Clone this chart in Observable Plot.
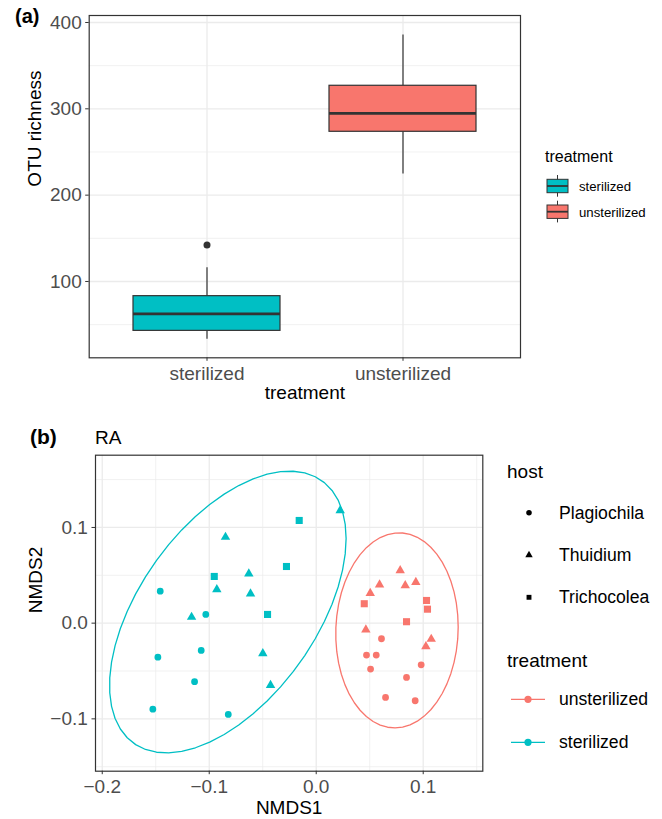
<!DOCTYPE html>
<html><head><meta charset="utf-8">
<script src="https://cdn.jsdelivr.net/npm/d3@7"></script>
<script src="https://cdn.jsdelivr.net/npm/@observablehq/plot@0.6"></script>
<style>
body{margin:0;background:#fff;}
#root{position:relative;width:662px;height:819px;overflow:hidden;background:#fff;}
#root > *{position:absolute;}
</style></head><body><div id="root"></div>
<script>
// ---------- Panel (a): OTU richness box plot (summary statistics) ----------
const treatments = ["sterilized", "unsterilized"];
const whiskerLow = [33, 224.5];
const boxQ1 = [42.8, 273.4];
const boxMedian = [62.5, 294.7];
const boxQ3 = [83, 326.7];
const whiskerHigh = [115.8, 385.4];
const outlierTreatment = ["sterilized"];
const outlierValue = [142.4];
const yTicksA = [100, 200, 300, 400];
const yMinorA = [50, 150, 250, 350];

// ---------- Panel (b): NMDS ordination ----------
const hosts = ["Plagiochila", "Thuidium", "Trichocolea"];
const legendTreatments = ["unsterilized", "sterilized"];
const nmds1 = [
  // sterilized Plagiochila
  -0.1458, -0.1032, -0.1480, -0.1075, -0.1137, -0.1527, -0.0822,
  // sterilized Thuidium
  -0.0848, -0.0630, -0.0929, -0.0614, -0.1165, -0.0499, -0.0427, 0.0224,
  // sterilized Trichocolea
  -0.0159, -0.0953, -0.0278, -0.0455,
  // unsterilized Thuidium
  0.0785, 0.0592, 0.0832, 0.0931, 0.0505, 0.0464, 0.1075, 0.1025,
  // unsterilized Trichocolea
  0.0449, 0.1031, 0.1040, 0.0844,
  // unsterilized Plagiochila
  0.0610, 0.0470, 0.0561, 0.0508, 0.0981, 0.0844, 0.0648, 0.0925
];
const nmds2 = [
  0.0334, 0.0091, -0.0355, -0.0285, -0.0612, -0.0899, -0.0954,
  0.0899, 0.0516, 0.0352, 0.0307, 0.0063, -0.0317, -0.0648, 0.1178,
  0.1073, 0.0488, 0.0592, 0.0091,
  0.0551, 0.0401, 0.0394, 0.0428, 0.0313, -0.0069, -0.0167, -0.0243,
  0.0203, 0.0237, 0.0146, 0.0015,
  -0.0163, -0.0334, -0.0334, -0.0480, -0.0435, -0.0567, -0.0776, -0.0811
];
const hostOf = [
  ...Array(7).fill("Plagiochila"), ...Array(8).fill("Thuidium"), ...Array(4).fill("Trichocolea"),
  ...Array(8).fill("Thuidium"), ...Array(4).fill("Trichocolea"), ...Array(8).fill("Plagiochila")
];
const treatmentOf = [...Array(19).fill("sterilized"), ...Array(20).fill("unsterilized")];
const xTicksB = [-0.2, -0.1, 0.0, 0.1];
const xMinorB = [-0.15, -0.05, 0.05, 0.15];
const yTicksB = [-0.1, 0.0, 0.1];
const yMinorB = [-0.15, -0.05, 0.05, 0.15];

// ---------- styles ----------
const FONT = '"Liberation Sans", Arial, Helvetica, sans-serif';
const treatmentColors = ["#00BFC4", "#F8766D"];
const colorOf = {sterilized: "#00BFC4", unsterilized: "#F8766D"};
const hostRadius = {Plagiochila: 3.4, Thuidium: 3.5, Trichocolea: 4.0};
const GRID = "#EBEBEB";
const DARK = "#333333";
const TICKTXT = "#4D4D4D";
const fmtB = d => (d < 0 ? "\u2212" : "") + Math.abs(d).toFixed(1);

// ---------- stat_ellipse (type = "t", level 0.95) ----------
function covTrob(pts, nu = 5, maxit = 25, tol = 0.01) {
  const n = pts.length, p = 2;
  let loc = [d3.mean(pts, d => d[0]), d3.mean(pts, d => d[1])];
  let w = pts.map(() => 1);
  let X;
  for (let iter = 1; iter <= maxit; iter++) {
    const w0 = w.slice();
    X = pts.map(d => [d[0] - loc[0], d[1] - loc[1]]);
    const sw = d3.sum(w);
    let a = 0, b = 0, c = 0;
    X.forEach((v, i) => { a += w[i] * v[0] * v[0]; b += w[i] * v[0] * v[1]; c += w[i] * v[1] * v[1]; });
    a /= sw; b /= sw; c /= sw;
    const det = a * c - b * b;
    const Q = X.map(v => (c * v[0] * v[0] - 2 * b * v[0] * v[1] + a * v[1] * v[1]) / det);
    w = Q.map(q => (nu + p) / (nu + q));
    const sw2 = d3.sum(w);
    loc = [d3.sum(pts, (d, i) => w[i] * d[0]) / sw2, d3.sum(pts, (d, i) => w[i] * d[1]) / sw2];
    if (w.every((wi, i) => Math.abs(wi - w0[i]) < tol)) break;
  }
  let a = 0, b = 0, c = 0;
  X.forEach((v, i) => { a += w[i] * v[0] * v[0]; b += w[i] * v[0] * v[1]; c += w[i] * v[1] * v[1]; });
  return {cov: [a / n, b / n, c / n], center: loc};
}
function ellipseFor(group) {
  const pts = group.map(d => [d.x, d.y]);
  const {cov: [a, b, c], center} = covTrob(pts);
  const r11 = Math.sqrt(a), r12 = b / r11, r22 = Math.sqrt(c - r12 * r12);
  const dfd = pts.length - 1;
  const qf = (dfd / 2) * (Math.pow(0.05, -2 / dfd) - 1);
  const radius = Math.sqrt(2 * qf);
  const segs = 51;
  return d3.range(segs + 1).map(k => {
    const t = k * 2 * Math.PI / segs, u = Math.cos(t), v = Math.sin(t);
    return {x: center[0] + radius * u * r11, y: center[1] + radius * (u * r12 + v * r22), treatment: group[0].treatment};
  });
}

const root = document.getElementById("root");

// ---------- Panel (a) ----------
const boxData = treatments.map((t, i) => ({treatment: t, lo: whiskerLow[i], q1: boxQ1[i], med: boxMedian[i], q3: boxQ3[i], hi: whiskerHigh[i]}));
const outData = outlierTreatment.map((t, i) => ({treatment: t, value: outlierValue[i]}));

const plotA = Plot.plot({
  width: 530, height: 410,
  marginLeft: 88.7, marginRight: 10, marginTop: 15, marginBottom: 52.7,
  style: {fontFamily: FONT, fontSize: "19px", background: "transparent", overflow: "visible"},
  x: {type: "band", domain: treatments, paddingInner: 0.25, paddingOuter: 0.225},
  y: {domain: [11.6, 408.1]},
  color: {domain: treatments, range: treatmentColors},
  marks: [
    Plot.gridY(yMinorA, {stroke: GRID, strokeOpacity: 1, strokeWidth: 0.7}),
    Plot.gridY(yTicksA, {stroke: GRID, strokeOpacity: 1, strokeWidth: 1.3}),
    Plot.gridX({stroke: GRID, strokeOpacity: 1, strokeWidth: 1.3}),
    Plot.ruleX(boxData, {x: "treatment", y1: "q3", y2: "hi", stroke: DARK, strokeWidth: 1.2}),
    Plot.ruleX(boxData, {x: "treatment", y1: "lo", y2: "q1", stroke: DARK, strokeWidth: 1.2}),
    Plot.barY(boxData, {x: "treatment", y1: "q1", y2: "q3", fill: "treatment", stroke: DARK, strokeWidth: 1.2}),
    Plot.tickY(boxData, {x: "treatment", y: "med", stroke: DARK, strokeWidth: 2.8}),
    Plot.dot(outData, {x: "treatment", y: "value", fill: DARK, r: 3.5}),
    Plot.axisY(yTicksA, {tickSize: 3.5, tickPadding: 4, stroke: DARK, fill: TICKTXT, label: null, fontSize: 19}),
    Plot.axisX({tickSize: 3.5, tickPadding: 5, stroke: DARK, fill: TICKTXT, label: null, fontSize: 19}),
    Plot.text(["OTU richness"], {frameAnchor: "left", dx: -54, rotate: -90, fill: "black", fontSize: 19}),
    Plot.text(["treatment"], {frameAnchor: "bottom", dy: 41.5, fill: "black", fontSize: 19}),
    Plot.frame({stroke: DARK, strokeWidth: 1.2})
  ]
});
plotA.style.left = "0px"; plotA.style.top = "0px";
root.appendChild(plotA);

// ---------- Panel (b) ----------
const pts = nmds1.map((x, i) => ({x, y: nmds2[i], host: hostOf[i], treatment: treatmentOf[i]}));
const ellipses = d3.groups(pts, d => d.treatment).flatMap(([, g]) => ellipseFor(g));

const plotB = Plot.plot({
  width: 662, height: 399,
  marginLeft: 95, marginRight: 179.7, marginTop: 34.7, marginBottom: 48.3,
  style: {fontFamily: FONT, fontSize: "19px", background: "transparent", overflow: "visible"},
  x: {domain: [-0.2063, 0.1557]},
  y: {domain: [-0.1547, 0.1755]},
  color: {domain: treatments, range: treatmentColors},
  symbol: {domain: hosts, range: ["circle", "triangle", "square"]},
  marks: [
    Plot.gridX(xMinorB, {stroke: GRID, strokeOpacity: 1, strokeWidth: 0.7}),
    Plot.gridY(yMinorB, {stroke: GRID, strokeOpacity: 1, strokeWidth: 0.7}),
    Plot.gridX(xTicksB, {stroke: GRID, strokeOpacity: 1, strokeWidth: 1.3}),
    Plot.gridY(yTicksB, {stroke: GRID, strokeOpacity: 1, strokeWidth: 1.3}),
    Plot.line(ellipses, {x: "x", y: "y", z: "treatment", stroke: "treatment", strokeWidth: 1.3}),
    ...hosts.map(h => Plot.dot(pts, {filter: d => d.host === h, x: "x", y: "y", symbol: "host", fill: "treatment", r: hostRadius[h]})),
    Plot.axisX(xTicksB, {tickSize: 3.5, tickPadding: 5, stroke: DARK, fill: TICKTXT, label: null, tickFormat: fmtB, fontSize: 19}),
    Plot.axisY(yTicksB, {tickSize: 3.5, tickPadding: 4.2, stroke: DARK, fill: TICKTXT, label: null, tickFormat: fmtB, fontSize: 19}),
    Plot.text(["NMDS2"], {frameAnchor: "left", dx: -60, rotate: -90, fill: "black", fontSize: 19}),
    Plot.text(["NMDS1"], {frameAnchor: "bottom", dy: 42.5, fill: "black", fontSize: 19}),
    Plot.frame({stroke: DARK, strokeWidth: 1.2})
  ]
});
plotB.style.left = "0px"; plotB.style.top = "420px";
root.appendChild(plotB);

// ---------- Labels and legends (overlay) ----------
const ov = d3.select(root).append("svg")
  .attr("width", 662).attr("height", 819)
  .style("left", "0px").style("top", "0px")
  .style("font-family", FONT);

ov.append("text").attr("x", 15).attr("y", 22.5).attr("font-size", 20).attr("font-weight", "bold").text("(a)");
ov.append("text").attr("x", 30).attr("y", 444).attr("font-size", 21).attr("font-weight", "bold").text("(b)");
ov.append("text").attr("x", 95).attr("y", 444).attr("font-size", 19).text("RA");

// legend (a)
ov.append("text").attr("x", 545).attr("y", 162.3).attr("font-size", 16).text("treatment");
treatments.forEach((t, i) => {
  const cy = 186 + i * 25.7;
  const g = ov.append("g");
  g.append("line").attr("x1", 557.5).attr("x2", 557.5).attr("y1", cy - 11).attr("y2", cy + 10.7).attr("stroke", DARK).attr("stroke-width", 1);
  g.append("rect").attr("x", 547).attr("y", cy - 6.7).attr("width", 21).attr("height", 13.4)
    .attr("fill", colorOf[t]).attr("stroke", DARK).attr("stroke-width", 1);
  g.append("line").attr("x1", 547).attr("x2", 568).attr("y1", cy).attr("y2", cy).attr("stroke", DARK).attr("stroke-width", 1.8);
  g.append("text").attr("x", 579).attr("y", cy + 5).attr("font-size", 13.2).text(t);
});

// legend (b): host
ov.append("text").attr("x", 507).attr("y", 478.3).attr("font-size", 19).text("host");
const symTypes = [d3.symbolCircle, d3.symbolTriangle, d3.symbolSquare];
hosts.forEach((h, i) => {
  const cy = 512.7 + i * 42.3;
  ov.append("path").attr("d", d3.symbol(symTypes[i], 24)()).attr("transform", `translate(529,${cy})`).attr("fill", "black");
  ov.append("text").attr("x", 559).attr("y", cy + 6).attr("font-size", 17.6).text(h);
});

// legend (b): treatment
ov.append("text").attr("x", 507).attr("y", 666.7).attr("font-size", 19).text("treatment");
legendTreatments.forEach((t, i) => {
  const cy = 699.3 + i * 43;
  ov.append("line").attr("x1", 511).attr("x2", 545).attr("y1", cy).attr("y2", cy).attr("stroke", colorOf[t]).attr("stroke-width", 1.3);
  ov.append("circle").attr("cx", 528).attr("cy", cy).attr("r", 3.6).attr("fill", colorOf[t]);
  ov.append("text").attr("x", 559).attr("y", cy + 6).attr("font-size", 17.6).text(t);
});
</script></body></html>
